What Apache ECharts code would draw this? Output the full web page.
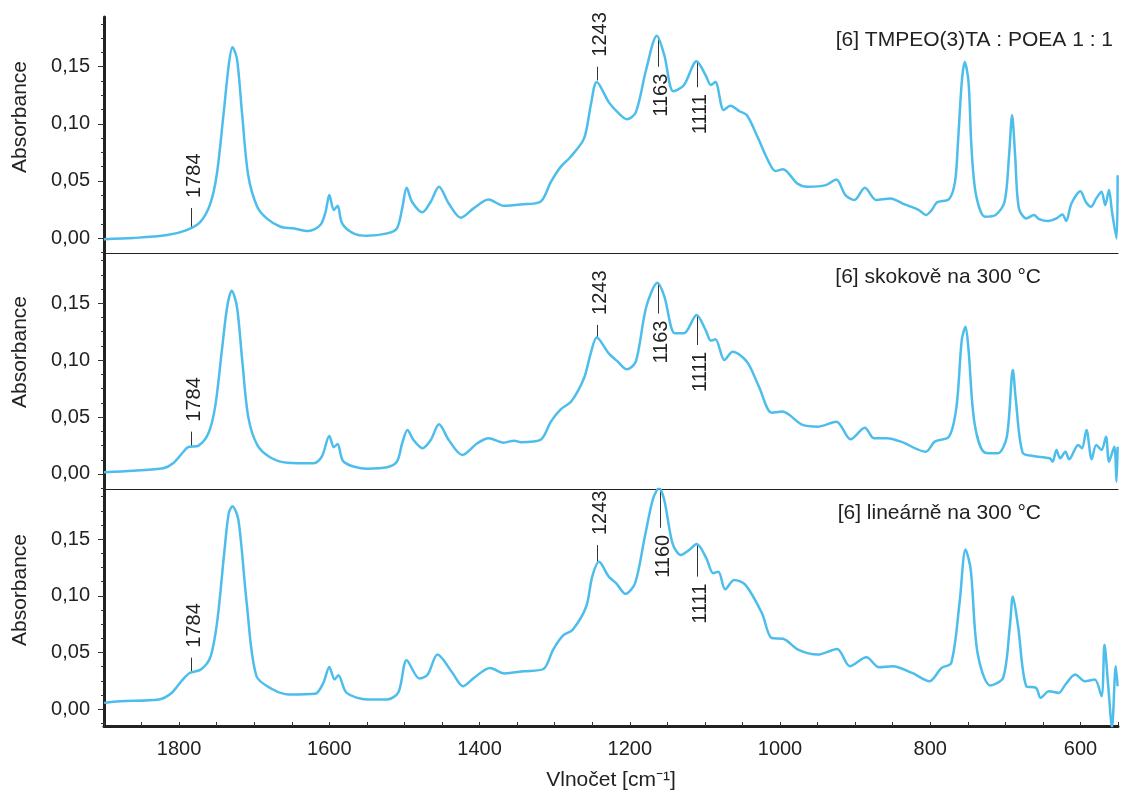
<!DOCTYPE html>
<html>
<head>
<meta charset="utf-8">
<script src="https://cdn.jsdelivr.net/npm/echarts@6/dist/echarts.min.js"></script>
<style>
  html, body { margin: 0; padding: 0; background: #fff; }
  #chart { width: 1125px; height: 792px; }
</style>
</head>
<body>
<div id="chart"></div>
<script>
// spektra – vlnočet [cm-1] a absorbance
const wn1 = [1900, 1861, 1816, 1790, 1772, 1759, 1750, 1741, 1734, 1729, 1723, 1716, 1708, 1696, 1683, 1665, 1648, 1628, 1612, 1605,
  1600, 1594, 1589, 1583, 1568, 1550, 1523, 1510, 1503, 1497, 1490, 1476, 1465, 1454, 1441, 1425, 1408, 1388, 1368, 1345,
  1319, 1305, 1292, 1279, 1261, 1252, 1244, 1228, 1216, 1204, 1192, 1178, 1164, 1154, 1142, 1128, 1111, 1099, 1092, 1086,
  1075, 1066, 1054, 1044, 1030, 1015, 1006, 996, 977, 963, 939, 925, 913, 901, 887, 872, 853, 834, 815, 806,
  798, 791, 775, 767, 763, 758, 754, 749, 745, 739, 727, 713, 701, 695, 691, 687, 682, 672, 662, 655,
  643, 632, 624, 619, 612, 600, 593, 586, 579, 572, 567, 562, 558, 552, 550.5];
const abs1 = [-0.001, 0.000, 0.0026, 0.007, 0.014, 0.029, 0.055, 0.1075, 0.151, 0.167, 0.157, 0.1075, 0.055, 0.0274, 0.017, 0.0099, 0.0085, 0.0061, 0.0114, 0.023,
  0.0376, 0.0245, 0.0282, 0.0128, 0.0041, 0.002, 0.0041, 0.0085, 0.026, 0.044, 0.0318, 0.0225, 0.0318, 0.0449, 0.0303, 0.0178, 0.026, 0.0338, 0.0282, 0.0294,
  0.0318, 0.0492, 0.0623, 0.071, 0.087, 0.116, 0.1366, 0.119, 0.110, 0.104, 0.110, 0.148, 0.177, 0.160, 0.1285, 0.1337, 0.1547, 0.1425, 0.134, 0.1366,
  0.112, 0.1157, 0.111, 0.1075, 0.0886, 0.0667, 0.0586, 0.0603, 0.0478, 0.0449, 0.0463, 0.0513, 0.0376, 0.0332, 0.044, 0.0332, 0.0347, 0.0294, 0.0245, 0.0201,
  0.0245, 0.0312, 0.0341, 0.0492, 0.0842, 0.1366, 0.154, 0.1366, 0.0784, 0.0376, 0.0186, 0.0201, 0.0318, 0.0726, 0.1075, 0.0726, 0.026, 0.0172, 0.0201, 0.0166,
  0.0149, 0.0172, 0.0207, 0.0149, 0.0303, 0.041, 0.0318, 0.0274, 0.0347, 0.0405, 0.0288, 0.042, 0.023, -0.0003, 0.055];

const wn2 = [1900, 1861, 1821, 1808, 1796, 1788, 1774, 1761, 1752, 1743, 1736, 1730, 1723, 1716, 1708, 1696, 1679, 1656, 1621, 1610,
  1600, 1594, 1589, 1581, 1550, 1523, 1510, 1503, 1496, 1488, 1476, 1465, 1454, 1441, 1423, 1403, 1388, 1368, 1354, 1345,
  1319, 1305, 1292, 1278, 1261, 1252, 1244, 1228, 1216, 1204, 1192, 1178, 1163, 1154, 1140, 1128, 1111, 1099, 1092, 1086,
  1074, 1063, 1044, 1028, 1011, 997, 970, 949, 925, 906, 887, 875, 858, 839, 806, 794, 775, 765, 758, 753,
  749, 741, 727, 710, 698, 690, 686, 677, 663, 641, 637, 632, 627, 620, 615, 603, 598, 592, 585, 579,
  572, 566, 562, 555, 552, 550.5];
const abs2 = [0.0015, 0.0029, 0.005, 0.0094, 0.0182, 0.0235, 0.0249, 0.0357, 0.0592, 0.109, 0.147, 0.161, 0.147, 0.100, 0.0504, 0.0255, 0.0147, 0.0099, 0.0094, 0.0152,
  0.0334, 0.0235, 0.0264, 0.0108, 0.0047, 0.0059, 0.0108, 0.027, 0.0387, 0.0299, 0.0226, 0.0299, 0.0437, 0.0299, 0.0167, 0.027, 0.0314, 0.0275, 0.0293, 0.0279,
  0.0299, 0.046, 0.0568, 0.0636, 0.0841, 0.106, 0.120, 0.106, 0.0987, 0.092, 0.0987, 0.147, 0.168, 0.156, 0.1236, 0.1236, 0.1397, 0.1265, 0.1172, 0.1183,
  0.1002, 0.1075, 0.0987, 0.0767, 0.0539, 0.0548, 0.0431, 0.0416, 0.046, 0.0305, 0.0407, 0.0314, 0.0314, 0.0284, 0.0196, 0.0284, 0.0328, 0.0592, 0.1178, 0.1294,
  0.109, 0.0445, 0.0187, 0.0182, 0.0328, 0.0914, 0.065, 0.0187, 0.0158, 0.0138, 0.0108, 0.0211, 0.0138, 0.0196, 0.0129, 0.0255, 0.0226, 0.0387, 0.0129, 0.0255,
  0.0211, 0.0328, 0.0108, 0.024, -0.0068, 0.024];

const wn3 = [1900, 1879, 1827, 1810, 1797, 1786, 1771, 1758, 1749, 1740, 1734, 1729, 1721, 1710, 1697, 1675, 1654, 1619, 1608, 1600,
  1593, 1588, 1577, 1549, 1523, 1508, 1497, 1480, 1469, 1456, 1436, 1422, 1406, 1386, 1367, 1341, 1315, 1302, 1289, 1276,
  1258, 1250, 1241, 1228, 1218, 1206, 1193, 1180, 1169, 1161, 1154, 1143, 1132, 1121, 1111, 1098, 1089, 1082, 1073, 1061,
  1046, 1024, 1011, 996, 976, 950, 924, 907, 885, 868, 850, 824, 801, 785, 772, 761, 753, 746, 737, 720,
  703, 694, 690, 683, 672, 659, 653, 642, 629, 620, 607, 594, 581, 572, 568, 563, 558, 553, 550.5];
const abs3 = [0.0055, 0.007, 0.0085, 0.0143, 0.0246, 0.0319, 0.0349, 0.0466, 0.0788, 0.1374, 0.1725, 0.179, 0.1667, 0.0934, 0.029, 0.0173, 0.0129, 0.0135, 0.0231, 0.0372,
  0.0261, 0.0299, 0.0143, 0.0085, 0.0085, 0.0149, 0.0431, 0.027, 0.0305, 0.0481, 0.0319, 0.0202, 0.0284, 0.0363, 0.0314, 0.0334, 0.0354, 0.0525, 0.0648, 0.07,
  0.0905, 0.1169, 0.13, 0.1169, 0.111, 0.1017, 0.111, 0.152, 0.1857, 0.195, 0.1843, 0.146, 0.136, 0.1403, 0.1456, 0.133, 0.1198, 0.1213, 0.1057, 0.114,
  0.1096, 0.0846, 0.0627, 0.0621, 0.0525, 0.0481, 0.053, 0.0378, 0.0457, 0.0369, 0.0378, 0.0319, 0.0246, 0.0363, 0.0407, 0.0934, 0.1409, 0.1227, 0.0495, 0.0208,
  0.0275, 0.0729, 0.0993, 0.0729, 0.0202, 0.0187, 0.0099, 0.0158, 0.0143, 0.0217, 0.0305, 0.0246, 0.0261, 0.0114, 0.0568, 0.0202, -0.016, 0.0378, 0.0202];

const titles = ['[6] TMPEO(3)TA : POEA 1 : 1', '[6] skokově na 300 °C', '[6] lineárně na 300 °C'];

// popisky pásů: panel, vlnočet, text, úsečka od-do (absorbance), text nad/pod
const bands = [
  { panel: 0, wn: 1784, label: '1784', lo: 0.0088, hi: 0.0263, dir: 'up' },
  { panel: 0, wn: 1243, label: '1243', lo: 0.138, hi: 0.150, dir: 'up' },
  { panel: 0, wn: 1163, label: '1163', lo: 0.150, hi: 0.1763, dir: 'down' },
  { panel: 0, wn: 1111, label: '1111', lo: 0.132, hi: 0.155, dir: 'down' },
  { panel: 1, wn: 1784, label: '1784', lo: 0.0246, hi: 0.0372, dir: 'up' },
  { panel: 1, wn: 1243, label: '1243', lo: 0.120, hi: 0.131, dir: 'up' },
  { panel: 1, wn: 1163, label: '1163', lo: 0.141, hi: 0.168, dir: 'down' },
  { panel: 1, wn: 1111, label: '1111', lo: 0.1134, hi: 0.1397, dir: 'down' },
  { panel: 2, wn: 1784, label: '1784', lo: 0.0328, hi: 0.0454, dir: 'up' },
  { panel: 2, wn: 1243, label: '1243', lo: 0.130, hi: 0.1447, dir: 'up' },
  { panel: 2, wn: 1160, label: '1160', lo: 0.160, hi: 0.1924, dir: 'down' },
  { panel: 2, wn: 1111, label: '1111', lo: 0.1169, hi: 0.1447, dir: 'down' }
];

const xLabels = [1800, 1600, 1400, 1200, 1000, 800, 600];
const yLabels = [0, 0.05, 0.10, 0.15];
const yMinor = [-0.0125, 0, 0.0125, 0.025, 0.0375, 0.05, 0.0625, 0.075, 0.0875, 0.1, 0.1125, 0.125, 0.1375, 0.15, 0.1625, 0.175, 0.1875];
const xMinor = [];
for (let v = 550; v <= 1900; v += 50) xMinor.push(v);

const FONT = '"Liberation Sans", Arial, Helvetica, sans-serif';
const TXT = '#222';
const BLUE = '#4dbdeb';

// rozložení panelů
const panels = [
  { top: 17, height: 236, min: -0.0131, max: 0.1935 },
  { top: 253, height: 236, min: -0.0132, max: 0.1942 },
  { top: 489, height: 238, min: -0.0149, max: 0.1942 }
];
const spectra = [[wn1, abs1], [wn2, abs2], [wn3, abs3]];

const chart = echarts.init(document.getElementById('chart'));

const grid = [], xAxis = [], yAxis = [], series = [];
panels.forEach((p, i) => {
  const last = i === panels.length - 1;
  grid.push({ left: 104, width: 1014, top: p.top, height: p.height });
  xAxis.push({
    type: 'value', gridIndex: i, min: 550, max: 1900, inverse: true,
    axisLine: { show: true, onZero: false, lineStyle: { color: TXT, width: last ? 3 : 1.2 } },
    axisTick: last ? { show: true, inside: true, length: 4, customValues: xMinor, lineStyle: { color: '#333', width: 1 } } : { show: false },
    axisLabel: last ? { show: true, customValues: xLabels, fontSize: 20, fontFamily: FONT, color: TXT, margin: 13, formatter: v => String(v) } : { show: false },
    splitLine: { show: false },
    name: last ? 'Vlnočet [cm⁻¹]' : '',
    nameLocation: 'middle', nameGap: 44,
    nameTextStyle: { fontSize: 21, fontFamily: FONT, color: TXT }
  });
  // hlavní osa s popisky
  yAxis.push({
    type: 'value', gridIndex: i, position: 'left', min: p.min, max: p.max,
    axisLine: { show: true, onZero: false, lineStyle: { color: TXT, width: 3 } },
    axisTick: { show: true, length: 6, customValues: yLabels, lineStyle: { color: '#333', width: 1 } },
    axisLabel: {
      show: true, customValues: yLabels, fontSize: 20, fontFamily: FONT, color: TXT, margin: 14,
      formatter: v => v.toFixed(2).replace('.', ',')
    },
    splitLine: { show: false }
  });
  // vedlejší dílky
  yAxis.push({
    type: 'value', gridIndex: i, position: 'left', min: p.min, max: p.max,
    axisLine: { show: false, onZero: false },
    axisTick: { show: true, length: 3, customValues: yMinor, lineStyle: { color: '#333', width: 1 } },
    axisLabel: { show: false },
    splitLine: { show: false }
  });
  const [wn, ab] = spectra[i];
  series.push({
    type: 'line', xAxisIndex: i, yAxisIndex: i * 2,
    data: wn.map((w, k) => [w, ab[k]]),
    showSymbol: false, smooth: 0.3, clip: true,
    lineStyle: { color: BLUE, width: 2.5 },
    silent: true, animation: false
  });
});

chart.setOption({
  animation: false,
  grid: grid,
  xAxis: xAxis,
  yAxis: yAxis,
  series: series
});

// texty: Absorbance, nadpisy panelů, popisky pásů
const graphics = [];
const nameY = [117, 352, 590];
nameY.forEach(y => {
  graphics.push({
    type: 'text', x: 20, y: y, rotation: Math.PI / 2,
    style: { text: 'Absorbance', font: '21px ' + FONT, fill: TXT, align: 'center', verticalAlign: 'middle' }
  });
});
const titlePos = [[1113, 40], [1041, 277], [1041, 513]];
titles.forEach((t, i) => {
  graphics.push({
    type: 'text', x: titlePos[i][0], y: titlePos[i][1],
    style: { text: t, font: '21px ' + FONT, fill: TXT, align: 'right', verticalAlign: 'middle' }
  });
});
bands.forEach(b => {
  const p0 = chart.convertToPixel({ seriesIndex: b.panel }, [b.wn, b.lo]);
  const p1 = chart.convertToPixel({ seriesIndex: b.panel }, [b.wn, b.hi]);
  const x = Math.round(p0[0]) + 0.5;
  graphics.push({
    type: 'line', shape: { x1: x, y1: p0[1], x2: x, y2: p1[1] },
    style: { stroke: '#333', lineWidth: 1 }
  });
  const up = b.dir === 'up';
  graphics.push({
    type: 'text', x: x + 3, y: up ? p1[1] - 10 : p0[1] + 7, rotation: Math.PI / 2,
    style: { text: b.label, font: '20px ' + FONT, fill: TXT, align: up ? 'left' : 'right', verticalAlign: 'middle' }
  });
});
chart.setOption({ graphic: graphics });
</script>
</body>
</html>
